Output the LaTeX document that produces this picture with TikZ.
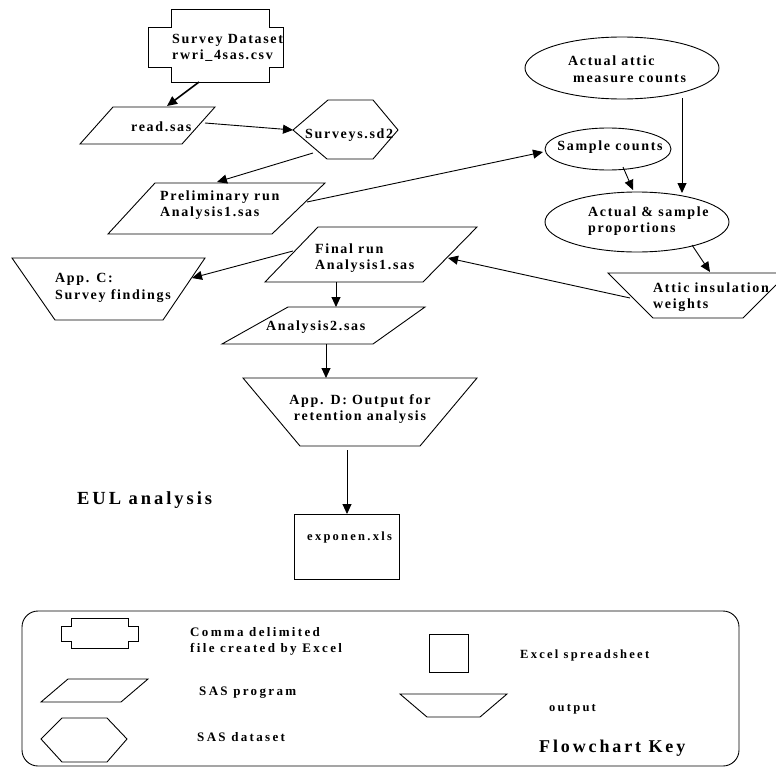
\documentclass[tikz,border=0pt]{standalone}
\usepackage{fontspec}
\setmainfont{Liberation Serif}
\newfontfamily\lbl[LetterSpace=12]{Liberation Serif}
\newfontfamily\klbl[LetterSpace=18]{Liberation Serif}
\newfontfamily\blbl[LetterSpace=16]{Liberation Serif}
\usetikzlibrary{arrows.meta}
\tikzset{
  shp/.style={draw, line width=0.9pt},
  arr/.style={draw, line width=0.9pt, -{Triangle[length=10pt,width=9pt]}},
  txt/.style={inner sep=0pt, align=left, anchor=west, font=\lbl\bfseries\fontsize{14}{16.5}\selectfont},
  ktxt/.style={inner sep=0pt, align=left, anchor=west, font=\klbl\bfseries\fontsize{13}{16}\selectfont},
  stxt/.style={inner sep=0pt, align=left, anchor=west, font=\klbl\bfseries\fontsize{12.5}{14}\selectfont},
  big/.style={inner sep=0pt, anchor=west, font=\blbl\bfseries\fontsize{18.5}{20}\selectfont},
}
\begin{document}
\begin{tikzpicture}[x=1pt,y=-1pt]
\useasboundingbox (0,0) rectangle (776,768);
% Survey dataset
\draw[shp] (171,9)--(269,9)--(269,27)--(283,27)--(283,67)--(269,67)--(269,82)--(171,82)--(171,67)--(148,67)--(148,27)--(171,27)--cycle;
\node[txt] (sd) at (172,48) {Survey Dataset\\rwri\_4sas.csv};
% read.sas
\draw[shp] (113,107)--(215,107)--(182,144)--(80,144)--cycle;
\node[txt] (rs) at (131,127) {read.sas};
% Surveys.sd2
\draw[shp] (328,100)--(373,100)--(398,130)--(373,159)--(327,159)--(293,130)--cycle;
\node[txt] (sv) at (305,135) {Surveys.sd2};
% Preliminary
\draw[shp] (155,183)--(325,183)--(272,234)--(108,234)--cycle;
\node[txt] (pr) at (160,205) {Preliminary run\\Analysis1.sas};
% Ellipses
\draw[shp] (622,68) ellipse [x radius=97, y radius=31];
\node[txt] (aa) at (568,69) {Actual attic\\\hspace*{5pt}measure counts};
\draw[shp] (608,149) ellipse [x radius=63, y radius=21];
\node[txt, anchor=center] (sc) at (610,147) {Sample counts};
\draw[shp] (637,222) ellipse [x radius=92, y radius=30];
\node[txt] (ap) at (588,221) {Actual \& sample\\proportions};
% Attic weights
\draw[shp] (776,285)--(743,318)--(653,318)--(608,273)--(776,273);
\node[txt] (aw) at (653,297) {Attic insulation\\weights};
% Final run
\draw[shp] (318,227)--(477,227)--(423,282)--(265,282)--cycle;
\node[txt] (fr) at (315,258) {Final run\\Analysis1.sas};
% App C
\draw[shp] (12,258)--(205,258)--(163,320)--(55,320)--cycle;
\node[txt] (ac) at (55,288) {App. C:\\Survey findings};
% Analysis2
\draw[shp] (288,307)--(425,307)--(373,344)--(222,344)--cycle;
\node[txt] (a2) at (266,327) {Analysis2.sas};
% App D
\draw[shp] (243,378)--(477,378)--(420,446)--(300,446)--cycle;
\node[txt, align=center, anchor=center] (ad) at (360,409) {App. D: Output for\\retention analysis};
% exponen
\draw[shp] (294,514) rectangle (399,579);
\node[stxt] (ex) at (307,537) {exponen.xls};
% EUL
\node[big] (eul) at (77,500) {EUL analysis};
% connector end points
\coordinate (sdB) at (199,82); \coordinate (rsT) at (167,106);
\coordinate (rsR) at (205,123); \coordinate (svL) at (293,130);
\coordinate (svB) at (313,153); \coordinate (prT) at (217,182);
\coordinate (prR) at (307,202); \coordinate (scL) at (543,152);
\coordinate (aaB) at (682,98); \coordinate (apT1) at (682,193);
\coordinate (scB) at (623,167); \coordinate (apT2) at (633,190);
\coordinate (apB) at (692,245); \coordinate (awT) at (710,272);
\coordinate (awL) at (630,298); \coordinate (frR) at (448,258);
\coordinate (frL) at (293,251); \coordinate (acR) at (192,278);
\coordinate (frB) at (336,282); \coordinate (a2T) at (336,307);
\coordinate (a2B) at (326,344); \coordinate (adT) at (326,378);
\coordinate (adB) at (347,450); \coordinate (exT) at (347,514);
\draw[arr, line width=1.6pt] (sdB) -- (rsT);
\draw[arr] (rsR) -- (svL);
\draw[arr] (svB) -- (prT);
\draw[arr] (prR) -- (scL);
\draw[arr] (aaB) -- (apT1);
\draw[arr] (scB) -- (apT2);
\draw[arr] (apB) -- (awT);
\draw[arr] (awL) -- (frR);
\draw[arr] (frL) -- (acR);
\draw[arr] (frB) -- (a2T);
\draw[arr] (a2B) -- (adT);
\draw[arr] (adB) -- (exT);
% Key
\draw[shp, rounded corners=16pt] (22,611) rectangle (739,766);
\draw[shp] (71,618)--(128,618)--(128,626)--(138,626)--(138,641)--(128,641)--(128,648)--(71,648)--(71,641)--(61,641)--(61,626)--(71,626)--cycle;
\node[ktxt] (k1) at (190,641) {Comma delimited\\file created by Excel};
\draw[shp] (68,679)--(148,679)--(121,702)--(41,702)--cycle;
\node[ktxt] (k2) at (199,693) {SAS program};
\draw[shp] (62,718)--(107,718)--(127,739)--(107,762)--(62,762)--(41,739)--cycle;
\node[ktxt] (k3) at (197,737) {SAS dataset};
\draw[shp] (429,634) rectangle (468,672);
\node[stxt] (k4) at (520,655) {Excel spreadsheet};
\draw[shp] (400,694)--(507,694)--(480,717)--(427,717)--cycle;
\node[stxt] (k5) at (549,709) {output};
\node[big, font=\blbl\bfseries\fontsize{18}{20}\selectfont] (k6) at (539,748) {Flowchart Key};
\end{tikzpicture}
\end{document}
